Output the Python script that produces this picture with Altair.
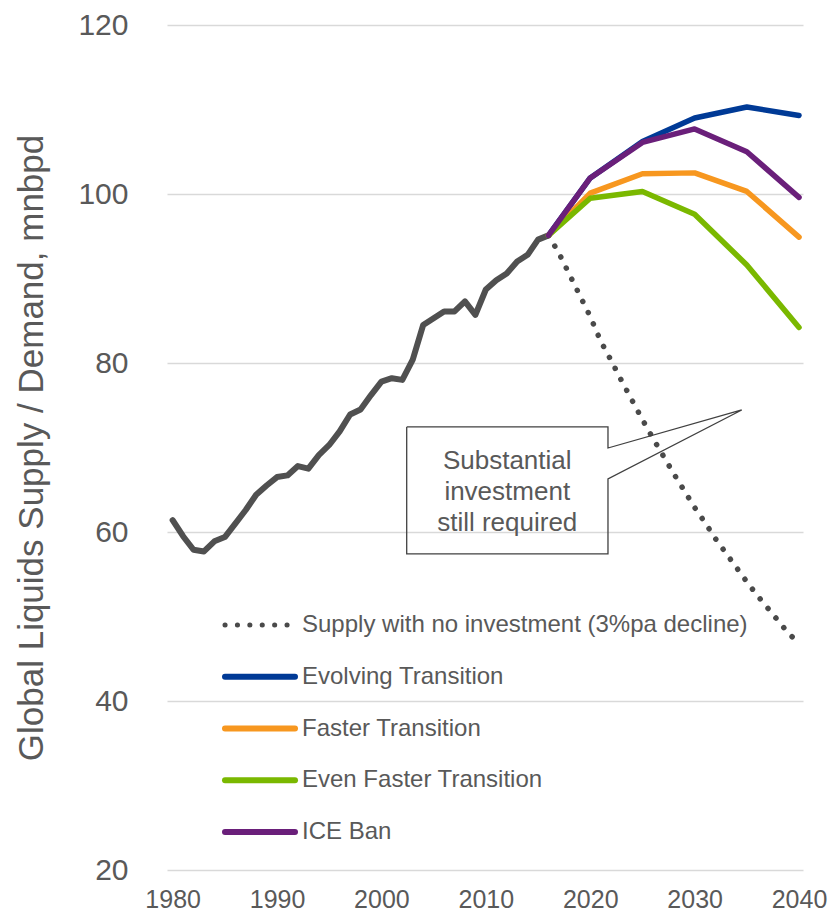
import altair as alt
import pandas as pd

FONT = "Liberation Sans"
TEXT_GREY = "#595959"

# Historical global liquids supply / demand (mnbpd)
hist_years = list(range(1980, 2017))
hist_values = [61.4, 59.5, 57.9, 57.7, 58.9, 59.4, 61.0, 62.6, 64.4, 65.5,
               66.5, 66.7, 67.8, 67.5, 69.1, 70.3, 71.9, 73.9, 74.5, 76.2,
               77.8, 78.2, 78.0, 80.4, 84.5, 85.3, 86.1, 86.1, 87.3, 85.7,
               88.7, 89.8, 90.6, 92.0, 92.8, 94.6, 95.1]

# Supply with no new investment
decline_years = list(range(2016, 2041))
decline_values = [95.1, 93.0, 90.5, 88.0, 85.5, 82.6, 80.3, 77.9, 75.6, 73.3,
                  71.1, 69.0, 66.9, 64.9, 62.9, 61.1, 59.2, 57.5, 55.8, 54.1,
                  52.5, 51.0, 49.5, 48.0, 46.8]

# Demand scenarios
scenario_years = [2016, 2020, 2025, 2030, 2035, 2040]
evolving = [95.1, 101.9, 106.2, 109.0, 110.3, 109.3]
faster = [95.1, 100.1, 102.4, 102.5, 100.3, 94.9]
even_faster = [95.1, 99.5, 100.3, 97.6, 91.6, 84.2]
ice_ban = [95.1, 101.9, 106.1, 107.7, 105.0, 99.6]

decline_name = "Supply with no investment (3%pa decline)"
scenario_names = ["Evolving Transition", "Faster Transition",
                  "Even Faster Transition", "ICE Ban"]
scenario_series = [evolving, faster, even_faster, ice_ban]
scenario_colors = ["#003a96", "#f7971f", "#7ab800", "#6a1f7a"]

# Callout outline (year, value) and its text
callout_x = [2002.42, 2021.70, 2021.70, 2034.51, 2021.70, 2021.70, 2002.42, 2002.42]
callout_y = [72.43, 72.43, 69.94, 74.44, 66.27, 57.40, 57.40, 72.43]
callout_text = ["Substantial", "investment", "still required"]

x_scale = alt.Scale(domain=[1979.46, 2040.38], nice=False, zero=False)
y_scale = alt.Scale(domain=[20, 120], nice=False, zero=False)
color_scale = alt.Scale(domain=scenario_names, range=scenario_colors)

hist_df = pd.DataFrame({"year": hist_years, "value": hist_values})
decline_df = pd.DataFrame({"year": decline_years, "value": decline_values})

y_axis = alt.Axis(values=[20, 40, 60, 80, 100, 120], grid=True, gridColor="#d9d9d9",
                  gridWidth=1.5, domain=False, ticks=False, labelFontSize=30,
                  labelColor=TEXT_GREY, labelPadding=39, labelFont=FONT,
                  title="Global Liquids Supply / Demand, mnbpd", titleFontSize=35,
                  titleFont=FONT, titleColor=TEXT_GREY, titleFontWeight="normal",
                  titlePadding=28)
x_axis = alt.Axis(values=[1980, 1990, 2000, 2010, 2020, 2030, 2040], format="d",
                  grid=False, domain=False, ticks=False, labelFontSize=25,
                  labelColor=TEXT_GREY, labelPadding=17, labelFont=FONT, title=None)

history = alt.Chart(hist_df).mark_line(
    color="#505050", strokeWidth=6, strokeCap="round", strokeJoin="round"
).encode(
    x=alt.X("year:Q", scale=x_scale, axis=x_axis),
    y=alt.Y("value:Q", scale=y_scale, axis=y_axis),
)

decline = alt.Chart(decline_df).mark_line(
    color="#4a4a4a", strokeWidth=5.5, strokeDash=[0.1, 12.3], strokeCap="round"
).encode(
    x=alt.X("year:Q", scale=x_scale),
    y=alt.Y("value:Q", scale=y_scale, axis=None),
)

layers = [history, decline]
for name, vals in zip(scenario_names, scenario_series):
    df = pd.DataFrame({"year": scenario_years, "value": vals, "series": name})
    layers.append(
        alt.Chart(df).mark_line(strokeWidth=5.5, strokeCap="round", strokeJoin="round").encode(
            x=alt.X("year:Q", scale=x_scale),
            y=alt.Y("value:Q", scale=y_scale, axis=None),
            color=alt.Color("series:N", scale=color_scale, legend=None),
        )
    )

callout_df = pd.DataFrame({"year": callout_x, "value": callout_y,
                           "order": list(range(len(callout_x)))})
callout_box = alt.Chart(callout_df).mark_line(
    color="#404040", strokeWidth=1.3, strokeJoin="miter"
).encode(
    x=alt.X("year:Q", scale=x_scale),
    y=alt.Y("value:Q", scale=y_scale, axis=None),
    order="order:Q",
)
callout_label = alt.Chart(pd.DataFrame({"year": [2012.05], "value": [68.4]})).mark_text(
    text=callout_text, font=FONT, fontSize=26, color=TEXT_GREY,
    lineHeight=31, align="center", baseline="middle"
).encode(
    x=alt.X("year:Q", scale=x_scale),
    y=alt.Y("value:Q", scale=y_scale, axis=None),
)
layers += [callout_box, callout_label]

# Legend, drawn as its own rows
legend_names = [decline_name] + scenario_names
legend_df = pd.DataFrame({"name": legend_names, "row": list(range(len(legend_names)))})
row_scale = alt.Scale(domain=[0, 4], range=[600, 807])

legend_dots = alt.Chart(legend_df[legend_df["row"] == 0]).mark_rule(
    color="#4a4a4a", strokeWidth=5, strokeDash=[0.1, 12.3], strokeCap="round"
).encode(
    x=alt.value(58), x2=alt.value(124),
    y=alt.Y("row:Q", scale=row_scale, axis=None),
)
legend_lines = alt.Chart(legend_df[legend_df["row"] > 0]).mark_rule(
    strokeWidth=6, strokeCap="round"
).encode(
    x=alt.value(58), x2=alt.value(128),
    y=alt.Y("row:Q", scale=row_scale, axis=None),
    color=alt.Color("name:N", scale=color_scale, legend=None),
)
legend_text = alt.Chart(legend_df).mark_text(
    font=FONT, fontSize=24, color=TEXT_GREY, align="left", baseline="middle"
).encode(
    x=alt.value(135),
    y=alt.Y("row:Q", scale=row_scale, axis=None),
    text="name:N",
)
layers += [legend_dots, legend_lines, legend_text]

chart = alt.layer(*layers).resolve_scale(
    y="independent", color="shared"
).properties(
    width=636, height=845,
    autosize=alt.AutoSizeParams(type="none"),
    padding={"left": 167, "top": 25, "right": 30, "bottom": 43},
    background="white",
).configure_view(stroke=None)

chart.save("out.html", embed_options={"renderer": "svg", "actions": False})
